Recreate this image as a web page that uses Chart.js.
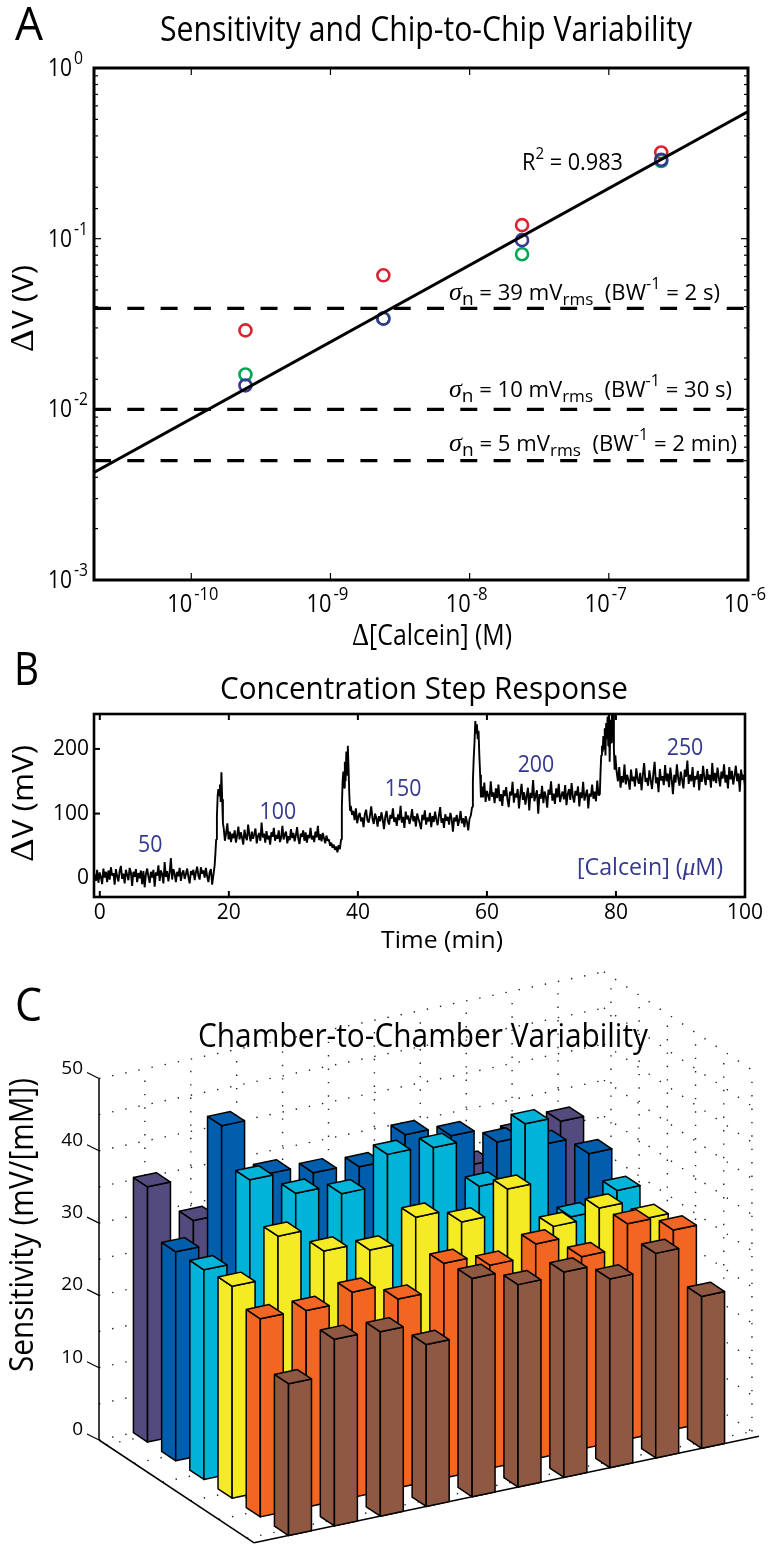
<!DOCTYPE html>
<html>
<head>
<meta charset="utf-8">
<style>
  html, body { margin: 0; background: #fff; }
  body { position: relative; width: 769px; height: 1550px; overflow: hidden; }
  canvas { position: absolute; left: 0; }
</style>
<script src="https://cdn.jsdelivr.net/npm/chart.js@4/dist/chart.umd.js"></script>
</head>
<body>
<canvas id="panelA" width="769" height="650" style="top:0"></canvas>
<canvas id="panelB" width="769" height="310" style="top:650px"></canvas>
<canvas id="panelC" width="769" height="590" style="top:960px"></canvas>
<script>
// panel A
const concentrations = [2.45e-10, 2.4e-9, 2.38e-8, 2.38e-7];
const chipRed = [0.029, 0.061, 0.12, 0.32];
const chipGreen = [0.016, 0.034, 0.081, 0.285];
const chipBlue = [0.0138, 0.034, 0.098, 0.29];
const fitX = [2e-11, 1e-6];
const fitY = [0.00427, 0.555];
const noiseLevels = [0.039, 0.01, 0.005];

// panel B, one array per stretch of the trace (mV)
const traceStarts = [-0.8, 17.8, 19.2, 37.4, 38.9, 57.7, 59.2, 77.5, 79.9, 100];
const trace50 = [6,-4,13,-7,9,2,-9,15,1,10,-6,12,-2,17,4,8,-10,14,3,-5,11,19,-1,7,-8,13,5,-3,16,9,-12,10,2,14,-6,8,0,12,-9,11,-14,6,15,3,-7,10,1,13,-13,9,4,20,-4,12,6,-8,25,2,11,-5,9,31,-2,14,7,-6,10,3,16,-4,8,12,-1,6,15,2,-8,11,5,13,-3,9,18,4,-2,17,7,12,1,16,3,-6,9,14,-10,5];
const spike1 = [20,38,60,95,128,138,128,145,118,164,122,85];
const trace100 = [78,58,70,85,60,72,56,69,62,74,55,66,80,60,71,63,52,75,64,59,83,67,57,72,61,68,77,54,65,70,58,86,63,69,55,73,60,66,52,71,64,78,58,67,61,74,56,63,81,60,68,72,54,65,59,76,62,70,57,66,79,61,53,69,64,74,58,71,55,67,62,78,60,66,56,72,63,81,59,68,57,70,62,54,66,58,60,50,55,47,52,44,49,40,51,45];
const spike2 = [60,110,150,165,140,180,150,196,160,205,170,130,105];
const trace150 = [112,98,104,90,108,85,96,101,88,94,79,99,106,90,86,97,111,92,84,100,93,80,96,88,102,91,76,95,104,89,83,98,92,108,87,94,81,99,90,112,86,95,78,103,91,97,84,93,107,88,96,80,100,92,85,76,98,90,105,83,94,88,101,79,96,87,103,91,82,97,110,86,93,78,99,89,95,83,101,92,72,94,88,98,81,90,104,85,93,79,96,87,74,92,97];
const spike3 = [110,150,185,210,243,225,238,215,228,190,160,125];
const trace200 = [142,125,148,118,135,128,120,150,126,133,116,139,124,145,119,130,112,136,127,141,122,110,134,128,149,117,131,125,138,108,129,146,121,133,114,127,140,105,132,124,152,119,128,136,100,130,123,143,116,134,126,109,137,129,150,120,131,115,139,125,146,118,128,134,122,144,113,130,138,121,147,126,117,135,128,142,111,133,124,149,120,129,137,108,131,126,145,123,134,119,151,128];
const spike4 = [130,165,190,205,195,220,200,232,190,240,215,250,205,255,180,245,210,262,230,270,200,168];
const trace250 = [190,165,150,172,140,158,148,176,145,160,152,137,168,150,157,142,170,154,146,163,136,159,178,149,155,143,167,152,138,161,180,147,156,133,169,151,158,144,175,150,162,141,171,153,130,160,148,176,155,143,165,152,139,168,157,182,146,160,150,172,141,158,153,166,136,161,149,174,155,144,169,152,160,140,178,150,163,147,171,156,142,165,154,176,148,160,139,172,153,166,145,158,174,150,162,134,168,152,160,143];
const stepLabels = ['50', '100', '150', '200', '250'];
const stepLabelTimes = [7.8, 27.6, 47, 67.6, 90.7];
const stepLabelValues = [40, 92, 127, 165, 190];

// panel C, sensitivity per chamber, back row first
const rowColors = ['#534a7e', '#005ead', '#00b4d9', '#f5eb24', '#f26522', '#8f5842'];
const rowPurple = [35.3, 29.3, 31, 29, 28, 30, 30, 28.9, 31.7, 32.3];
const rowBlue = [28.9, 45, 37, 35.8, 35.3, 38.4, 36.9, 34.7, 33, 30.4];
const rowCyan = [29, 40.1, 36.9, 35.5, 39.6, 39.2, 32.5, 39.8, 25.6, 27.9];
const rowYellow = [29.3, 34.9, 31.5, 30.3, 33.5, 31.5, 34.7, 28.2, 29.4, 26.6];
const rowOrange = [27.4, 27.2, 28.4, 26.1, 29.7, 28.1, 29.7, 26.6, 29.8, 27.6];
const rowBrown = [21, 25.8, 25.5, 22.4, 30.2, 28, 28.4, 26.1, 28.3, 21];
const zTicks = [0, 10, 20, 30, 40, 50];

const FONT = '"Open Sans"';
const navy = '#34388f';

// text runs: [text, size, raise, family, style]
function drawRuns(ctx, x, y, runs, opts = {}) {
  ctx.save();
  ctx.translate(x, y);
  if (opts.rotate) ctx.rotate(opts.rotate);
  const fontOf = r => `${r[4] || ''} ${r[1]}px ${r[3] || FONT}`;
  let natural = 0;
  for (const r of runs) { ctx.font = fontOf(r); natural += ctx.measureText(r[0]).width; }
  if (opts.width) ctx.scale(opts.width / natural, 1);
  if (opts.align === 'center') ctx.translate(-natural / 2, 0);
  if (opts.align === 'right') ctx.translate(-natural, 0);
  ctx.fillStyle = opts.color || '#000';
  ctx.textBaseline = 'alphabetic';
  ctx.textAlign = 'left';
  let pos = 0;
  for (const r of runs) {
    ctx.font = fontOf(r);
    ctx.fillText(r[0], pos, -(r[2] || 0));
    pos += ctx.measureText(r[0]).width;
  }
  ctx.restore();
}

function pairs(xs, ys) { return xs.map((x, i) => ({ x, y: ys[i] })); }

function strokeLine(ctx, x0, y0, x1, y1) {
  ctx.beginPath(); ctx.moveTo(x0, y0); ctx.lineTo(x1, y1); ctx.stroke();
}

function lineSet(data, extra) {
  return Object.assign({ data, borderColor: '#000', borderWidth: 3, pointRadius: 0, fill: false }, extra);
}

function circleSet(ys, color) {
  return {
    data: pairs(concentrations, ys), showLine: false, pointStyle: 'circle', pointRadius: 6,
    pointBorderWidth: 2.6, pointBorderColor: color, pointBackgroundColor: 'rgba(0,0,0,0)',
    borderColor: color, backgroundColor: 'rgba(0,0,0,0)'
  };
}

const sigmaRuns = (level, bw) => [
  ['σ', 26, 0, '"Liberation Serif"', 'italic'], ['n', 19, -5], [` = ${level} mV`, 22], ['rms', 17, -5],
  ['  (BW', 22], ['-1', 16, 11], [` = ${bw})`, 22]
];

const panelALabels = {
  id: 'panelALabels',
  afterDraw(chart) {
    const { ctx, chartArea: a, scales: { x, y } } = chart;
    ctx.save();
    ctx.strokeStyle = '#000';
    ctx.lineWidth = 1.2;
    for (const t of x.ticks) {
      const major = Math.abs(Math.log10(t.value) - Math.round(Math.log10(t.value))) < 1e-6;
      const len = major ? 7 : 4;
      const px = x.getPixelForValue(t.value);
      strokeLine(ctx, px, a.top, px, a.top + len);
      strokeLine(ctx, px, a.bottom, px, a.bottom - len);
      if (major) {
        const e = Math.round(Math.log10(t.value));
        drawRuns(ctx, px + 1, 612, [['10', 25]], { align: 'right', width: 25 });
        drawRuns(ctx, px + 3, 600, [[String(e), 18]], { width: e === -10 ? 24 : 15 });
      }
    }
    for (const t of y.ticks) {
      const major = Math.abs(Math.log10(t.value) - Math.round(Math.log10(t.value))) < 1e-6;
      const len = major ? 7 : 4;
      const py = y.getPixelForValue(t.value);
      strokeLine(ctx, a.left, py, a.left + len, py);
      strokeLine(ctx, a.right, py, a.right - len, py);
      if (major) {
        const e = Math.round(Math.log10(t.value));
        drawRuns(ctx, 48, py + 8, [['10', 25]], { width: 24 });
        drawRuns(ctx, 74, py - 4, [[String(e), 18]], { width: e === 0 ? 9 : 14 });
      }
    }
    ctx.lineWidth = 3;
    ctx.strokeRect(a.left, a.top, a.right - a.left, a.bottom - a.top);
    ctx.restore();

    drawRuns(ctx, 15, 40, [['A', 45]], { width: 28 });
    drawRuns(ctx, 160, 41, [['Sensitivity and Chip-to-Chip Variability', 34]], { width: 532 });
    drawRuns(ctx, 352, 645, [['Δ', 31, 0, '"Liberation Serif"'], ['[Calcein] (M)', 29]], { width: 160 });
    drawRuns(ctx, 33, 352, [['Δ', 34, 0, '"Liberation Serif"'], ['V (V)', 30]], { width: 87, rotate: -Math.PI / 2 });
    drawRuns(ctx, 522, 170, [['R', 23], ['2', 16, 11], [' = 0.983', 23]], { width: 101 });
    drawRuns(ctx, 449, 300, sigmaRuns(39, '2 s'), { width: 271 });
    drawRuns(ctx, 449, 397, sigmaRuns(10, '30 s'), { width: 283 });
    drawRuns(ctx, 449, 451, sigmaRuns(5, '2 min'), { width: 288 });
  }
};

new Chart(document.getElementById('panelA'), {
  type: 'line',
  data: {
    datasets: [
      lineSet(pairs(fitX, fitY)),
      ...noiseLevels.map(v => lineSet(pairs(fitX, [v, v]), { borderWidth: 3.3, borderDash: [17, 16.3] })),
      circleSet(chipBlue, navy),
      circleSet(chipGreen, '#00a651'),
      circleSet(chipRed, '#d9232e')
    ]
  },
  options: {
    responsive: false,
    animation: false,
    events: [],
    layout: { padding: { left: 94, top: 68, right: 21, bottom: 70 } },
    plugins: { legend: { display: false }, tooltip: { enabled: false } },
    scales: {
      x: { display: false, type: 'logarithmic', min: 2e-11, max: 1e-6 },
      y: { display: false, type: 'logarithmic', min: 1e-3, max: 1 }
    }
  },
  plugins: [panelALabels]
});

// panel B
const traceStretches = [trace50, spike1, trace100, spike2, trace150, spike3, trace200, spike4, trace250];
const tracePoints = traceStretches.flatMap((vals, s) =>
  vals.map((y, i) => ({
    x: traceStarts[s] + i * (traceStarts[s + 1] - traceStarts[s]) / (s === traceStretches.length - 1 ? vals.length - 1 : vals.length),
    y
  })));

const panelBLabels = {
  id: 'panelBLabels',
  afterDraw(chart) {
    const { ctx, chartArea: a, scales: { x, y } } = chart;
    ctx.save();
    ctx.strokeStyle = '#000';
    ctx.lineWidth = 2;
    for (const t of x.ticks) {
      const px = x.getPixelForValue(t.value);
      strokeLine(ctx, px, a.top, px, a.top + 6);
      strokeLine(ctx, px, a.bottom, px, a.bottom - 6);
    }
    for (const t of y.ticks) {
      const py = y.getPixelForValue(t.value);
      strokeLine(ctx, a.left, py, a.left + 6, py);
    }
    ctx.lineWidth = 2.6;
    ctx.strokeRect(a.left, a.top, a.right - a.left, a.bottom - a.top);
    ctx.restore();

    drawRuns(ctx, 14, 35, [['B', 45]], { width: 25 });
    drawRuns(ctx, 220, 49, [['Concentration Step Response', 31]], { width: 408 });
    drawRuns(ctx, 381, 298, [['Time (min)', 24]], { width: 122 });
    drawRuns(ctx, 33, 212, [['Δ', 34, 0, '"Liberation Serif"'], ['V (mV)', 29]], { width: 117, rotate: -Math.PI / 2 });
    stepLabels.forEach((s, i) => {
      drawRuns(ctx, x.getPixelForValue(stepLabelTimes[i]), y.getPixelForValue(stepLabelValues[i]), [[s, 23]], { align: 'center', color: navy, width: s.length * 12.2 });
    });
    drawRuns(ctx, 577, 225, [['[Calcein] (', 23], ['μ', 25, 0, '"Liberation Serif"', 'italic'], ['M)', 23]], { width: 146, color: navy });
  }
};

new Chart(document.getElementById('panelB'), {
  type: 'line',
  data: { datasets: [lineSet(tracePoints, { borderWidth: 1.9, borderJoinStyle: 'bevel' })] },
  options: {
    responsive: false,
    animation: false,
    events: [],
    layout: { autoPadding: false, padding: { left: 0, top: 64, right: 24, bottom: 30 } },
    plugins: { legend: { display: false }, tooltip: { enabled: false } },
    scales: {
      x: {
        type: 'linear', min: -0.9, max: 100,
        grid: { display: false, drawTicks: false },
        border: { display: false },
        ticks: { stepSize: 20, includeBounds: false, color: '#000', maxRotation: 0, padding: 3, font: { family: 'Open Sans', size: 21 } },
        afterFit(s) { s.height = 33; }
      },
      y: {
        type: 'linear', min: -29, max: 254,
        grid: { display: false, drawTicks: false },
        border: { display: false },
        ticks: { stepSize: 100, includeBounds: false, color: '#000', padding: 5, font: { family: 'Open Sans', size: 21 } },
        afterFit(s) { s.width = 94; }
      }
    }
  },
  plugins: [panelBLabels]
});

// panel C, bars are projected onto a pair of plain linear scales
const rows = [rowPurple, rowBlue, rowCyan, rowYellow, rowOrange, rowBrown];
const project = (u, v, z) => ({
  x: 99 + 45.9 * u + 28.2 * v,
  y: 480 - 9.7 * u + 18.7 * v - 7.23 * z
});
const thin = { borderWidth: 1.5, borderColor: '#000', borderJoinStyle: 'round' };
const dots = { borderWidth: 1.4, borderColor: '#222', borderDash: [1.4, 12] };
const barSets = [];
const pLine = (a, b, style) => barSets.push(lineSet([project(...a), project(...b)], style));

const uTicks = [1, 2, 3, 4, 5, 6, 7, 8, 9, 10];
const vTicks = [0.25, 1.25, 2.25, 3.25, 4.25, 5.25];
const zGrid = [0, 5, 10, 15, 20, 25, 30, 35, 40, 45, 50];
for (const z of zGrid) {
  pLine([0, 0, z], [11, 0, z], dots);
  pLine([11, 0, z], [11, 5.5, z], dots);
}
for (const u of uTicks) {
  pLine([u, 0, 0], [u, 0, 50], dots);
  pLine([u, 0, 0], [u, 5.5, 0], dots);
}
for (const v of vTicks) {
  pLine([11, v, 0], [11, v, 50], dots);
  pLine([0, v, 0], [11, v, 0], dots);
}
pLine([0, 0, 0], [0, 0, 50], thin);
pLine([0, 0, 0], [0, 5.5, 0], thin);
pLine([0, 5.5, 0], [11, 5.5, 0], thin);

rows.forEach((values, r) => {
  for (let c = values.length - 1; c >= 0; c--) {
    const u0 = c + 0.75, u1 = c + 1.25, v0 = r, v1 = r + 0.5, z = values[c];
    const face = corners => lineSet([...corners, corners[0]].map(p => project(...p)),
      Object.assign({ fill: 'shape', backgroundColor: rowColors[r] }, thin));
    barSets.push(face([[u0, v0, 0], [u0, v1, 0], [u0, v1, z], [u0, v0, z]]));
    barSets.push(face([[u0, v1, 0], [u1, v1, 0], [u1, v1, z], [u0, v1, z]]));
    barSets.push(face([[u0, v0, z], [u0, v1, z], [u1, v1, z], [u1, v0, z]]));
  }
});
barSets.reverse();

const panelCLabels = {
  id: 'panelCLabels',
  afterDraw(chart) {
    const { ctx, scales: { x, y } } = chart;
    ctx.save();
    ctx.strokeStyle = '#000';
    ctx.lineWidth = 1.2;
    for (const z of zTicks) {
      const p = project(0, 0, z);
      const px = x.getPixelForValue(p.x), py = y.getPixelForValue(p.y);
      strokeLine(ctx, px, py, px - 12, py - 6);
      drawRuns(ctx, px - 16, py - 5, [[String(z), 19]], { align: 'right' });
    }
    ctx.restore();
    drawRuns(ctx, 15, 61, [['C', 45]], { width: 27 });
    drawRuns(ctx, 198, 87, [['Chamber-to-Chamber Variability', 32]], { width: 450 });
    drawRuns(ctx, 33, 412, [['Sensitivity (mV/[mM])', 32]], { width: 294, rotate: -Math.PI / 2 });
  }
};

new Chart(document.getElementById('panelC'), {
  type: 'line',
  data: { datasets: barSets },
  options: {
    responsive: false,
    animation: false,
    events: [],
    plugins: { legend: { display: false }, tooltip: { enabled: false }, filler: { drawTime: 'beforeDatasetDraw' } },
    scales: {
      x: { display: false, type: 'linear', min: 0, max: 769 },
      y: { display: false, type: 'linear', min: 0, max: 590, reverse: true }
    }
  },
  plugins: [panelCLabels]
});
</script>
</body>
</html>
